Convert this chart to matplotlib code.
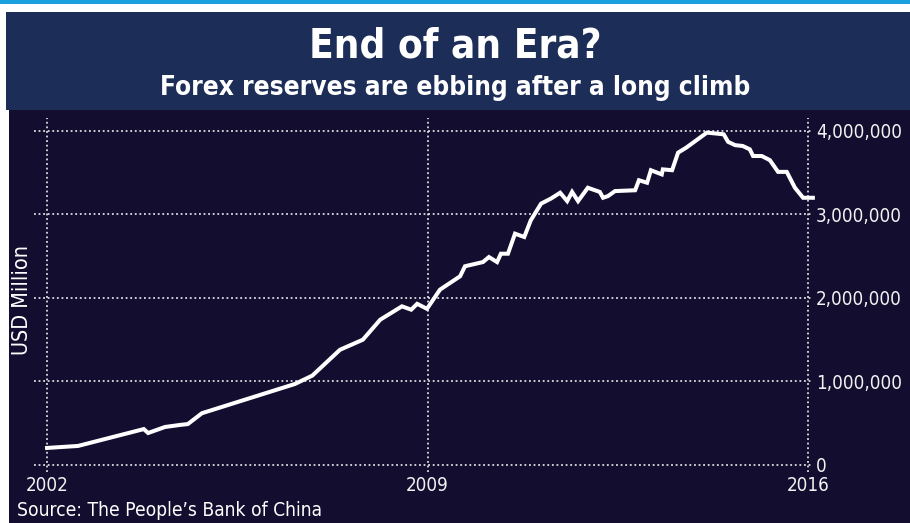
import matplotlib
matplotlib.use("Agg")
import matplotlib.pyplot as plt
from matplotlib.patches import Rectangle
from matplotlib.ticker import FuncFormatter

# Data (USD million)
years = [2002.0, 2002.57, 2003.78, 2003.86, 2004.17, 2004.45, 2004.59, 2004.85,
         2006.56, 2006.88, 2007.39, 2007.81, 2008.13, 2008.53, 2008.70, 2008.81,
         2008.99, 2009.23, 2009.60, 2009.69, 2010.02, 2010.13, 2010.28, 2010.35,
         2010.48, 2010.61, 2010.78, 2010.90, 2011.09, 2011.27, 2011.44, 2011.57,
         2011.66, 2011.77, 2011.95, 2012.17, 2012.23, 2012.32, 2012.45, 2012.82,
         2012.89, 2013.04, 2013.11, 2013.31, 2013.33, 2013.50, 2013.61, 2013.76,
         2014.14, 2014.45, 2014.53, 2014.66, 2014.80, 2014.93, 2014.99, 2015.15,
         2015.30, 2015.45, 2015.61, 2015.76, 2015.91, 2016.09]
reserves = [204000, 228000, 430000, 383000, 455000, 480000, 490000, 620000,
            970000, 1070000, 1380000, 1500000, 1740000, 1900000, 1860000, 1930000,
            1870000, 2100000, 2260000, 2380000, 2430000, 2490000, 2430000, 2530000,
            2530000, 2770000, 2730000, 2930000, 3130000, 3190000, 3260000, 3160000,
            3270000, 3160000, 3320000, 3270000, 3200000, 3220000, 3280000, 3290000,
            3410000, 3380000, 3530000, 3480000, 3540000, 3530000, 3740000, 3800000,
            3980000, 3960000, 3870000, 3830000, 3820000, 3780000, 3700000, 3700000,
            3650000, 3510000, 3510000, 3320000, 3200000, 3200000]
x_ticks = [2002, 2009, 2016]
y_ticks = [0, 1000000, 2000000, 3000000, 4000000]

title = "End of an Era?"
subtitle = "Forex reserves are ebbing after a long climb"
ylabel = "USD Million"
source = "Source: The People\u2019s Bank of China"

W, H = 910, 523
fig = plt.figure(figsize=(W / 100, H / 100), dpi=100)
fig.patch.set_facecolor("white")

def px_rect(x0, y0, x1, y1, color):
    fig.patches.append(Rectangle((x0 / W, 1 - y1 / H), (x1 - x0) / W, (y1 - y0) / H,
                                 transform=fig.transFigure, facecolor=color,
                                 edgecolor="none", zorder=-10))

px_rect(0, 0, W, 4, "#1a9fdf")
px_rect(6, 12, W, 110, "#1c2d57")
px_rect(9, 110, W, H, "#130e2f")

fam = ["DejaVu Sans"]
fig.text(0.5, 1 - 47 / H, title, ha="center", va="center", color="white",
         fontsize=29, fontweight="bold", fontstretch="condensed", family=fam)
fig.text(0.5, 1 - 88 / H, subtitle, ha="center", va="center", color="white",
         fontsize=18.8, fontweight="bold", fontstretch="condensed", family=fam)

ax = fig.add_axes([34 / W, (H - 472) / H, 779.4 / W, 354.4 / H])
ax.set_zorder(1)
ax.set_facecolor("none")
ax.plot(years, reserves, color="white", lw=2.9, solid_joinstyle="miter",
        clip_on=False, zorder=3)
ax.set_xlim(2001.76, 2016.1)
ax.set_ylim(-84000, 4160000)
ax.set_xticks(x_ticks)
ax.set_yticks(y_ticks)
ax.yaxis.tick_right()
ax.yaxis.set_major_formatter(FuncFormatter(lambda v, p: f"{int(v):,}"))
ax.grid(True, color="white", linestyle=(0, (1.2, 1.8)), linewidth=1.1)
ax.tick_params(length=0, colors="white", labelsize=13.5)
ax.tick_params(axis="y", pad=2)
ax.tick_params(axis="x", pad=3)
for lbl in ax.get_xticklabels() + ax.get_yticklabels():
    lbl.set_fontstretch("condensed")
    lbl.set_color("#f2f2f2")
for s in ax.spines.values():
    s.set_visible(False)

fig.text(22 / W, 1 - 300 / H, ylabel, rotation=90, ha="center", va="center",
         color="white", fontsize=15.5, fontstretch="condensed", family=fam)
fig.text(17 / W, 1 - 511 / H, source, ha="left", va="center", color="white",
         fontsize=13.8, fontstretch="condensed", family=fam)

fig.savefig("out.png", dpi=100, facecolor=fig.get_facecolor())
